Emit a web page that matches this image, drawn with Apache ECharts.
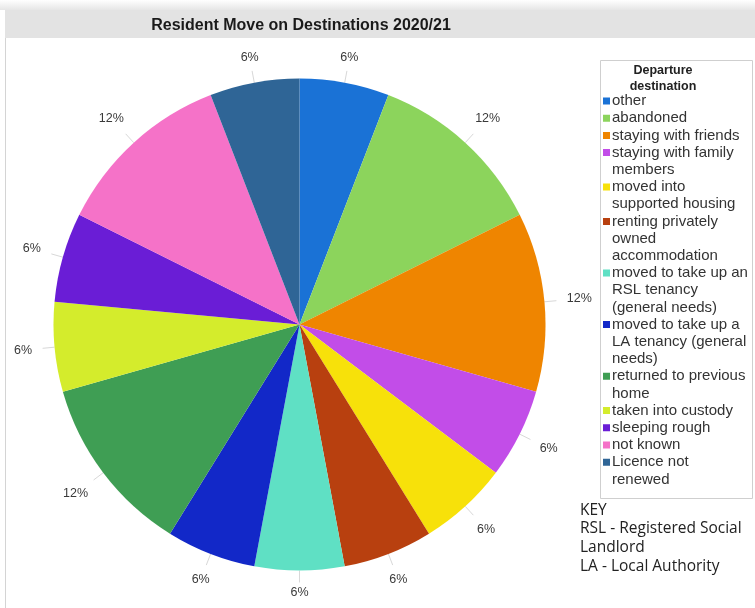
<!DOCTYPE html>
<html>
<head>
<meta charset="utf-8">
<script src="https://cdn.jsdelivr.net/npm/echarts@6/dist/echarts.min.js"></script>
<style>
html,body{margin:0;padding:0;background:#fff;}
#chart{width:755px;height:608px;}
</style>
</head>
<body>
<div id="chart"></div>
<script>
// ---- data ----
const chartTitle = 'Resident Move on Destinations 2020/21';
const legendTitle = 'Departure\ndestination';
const categories = [
  'other',
  'abandoned',
  'staying with friends',
  'staying with family members',
  'moved into supported housing',
  'renting privately owned accommodation',
  'moved to take up an RSL tenancy (general needs)',
  'moved to take up a LA tenancy (general needs)',
  'returned to previous home',
  'taken into custody',
  'sleeping rough',
  'not known',
  'Licence not renewed'
];
const legendLabels = [
  'other',
  'abandoned',
  'staying with friends',
  'staying with family\nmembers',
  'moved into\nsupported housing',
  'renting privately\nowned\naccommodation',
  'moved to take up an\nRSL tenancy\n(general needs)',
  'moved to take up a\nLA tenancy (general\nneeds)',
  'returned to previous\nhome',
  'taken into custody',
  'sleeping rough',
  'not known',
  'Licence not\nrenewed'
];
const counts = [1, 2, 2, 1, 1, 1, 1, 1, 2, 1, 1, 2, 1];
const colors = [
  '#1a72d6', '#8cd45c', '#ef8500', '#c24de8', '#f7e10a', '#b8400f',
  '#5fe0c4', '#1228c8', '#3f9e54', '#d4ec2c', '#6a1dd6', '#f572c8', '#2f6596'
];
const keyText = 'KEY\nRSL - Registered Social\nLandlord\nLA - Local Authority';

// ---- chart ----
const chart = echarts.init(document.getElementById('chart'), null, {renderer: 'canvas'});

const LH = 17.2;          // legend line height
const firstTop = 92.4;    // top of first legend line
const legends = [];
let cum = 0;
categories.forEach((name, i) => {
  const n = legendLabels[i].split('\n').length;
  const H = n * LH;
  const a = (LH - 7) / 2, b = a + 7;
  legends.push({
    show: true,
    orient: 'vertical',
    left: 603,
    top: firstTop + cum * LH,
    padding: 0,
    itemGap: 0,
    itemWidth: 7,
    itemHeight: H,
    selectedMode: false,
    icon: `path://M0,${a}L7,${a}L7,${b}L0,${b}Z M0,0L0,${H}`,
    itemStyle: {borderWidth: 0},
    data: [name],
    formatter: () => legendLabels[i],
    textStyle: {
      fontFamily: 'Liberation Sans, Arial, sans-serif',
      fontSize: 15,
      lineHeight: LH,
      color: '#333',
      padding: [0, 0, 0, -3]
    }
  });
  cum += n;
});

const option = {
  backgroundColor: '#fff',
  animation: false,
  color: colors,
  title: {
    text: chartTitle,
    left: 296,
    top: 13,
    textAlign: 'center',
    textStyle: {
      fontFamily: '"Liberation Sans", Arial, sans-serif',
      fontWeight: 'bold',
      fontSize: 16,
      color: '#1a1a1a'
    }
  },
  graphic: [
    {type: 'rect', z: -10, shape: {x: 0, y: 0, width: 755, height: 10},
     style: {fill: new echarts.graphic.LinearGradient(0, 0, 0, 1, [{offset: 0, color: '#ffffff'}, {offset: 1, color: '#e6e6e6'}])}},
    {type: 'rect', z: -10, shape: {x: 5, y: 10, width: 750, height: 28}, style: {fill: '#e3e3e3'}},
    {type: 'line', z: -10, shape: {x1: 5.5, y1: 38, x2: 5.5, y2: 608}, style: {stroke: '#d4d4d4', lineWidth: 1}},
    {type: 'rect', z: -5, shape: {x: 600.5, y: 60.5, width: 152, height: 438},
     style: {fill: '#fff', stroke: '#cfcfcf', lineWidth: 1}},
    {type: 'text', z: 5, x: 663, y: 62,
     style: {text: legendTitle, fill: '#222', align: 'center',
             font: 'bold 12.5px "Liberation Sans", Arial, sans-serif', lineHeight: 16.5}},
    {type: 'text', z: 5, x: 580, y: 501,
     style: {text: keyText, fill: '#222', font: '15.5px "Open Sans", Lato, sans-serif', lineHeight: 18.6}}
  ],
  legend: legends,
  series: [{
    type: 'pie',
    center: [299.5, 324.5],
    radius: 246,
    startAngle: 90,
    clockwise: true,
    avoidLabelOverlap: false,
    data: categories.map((name, i) => ({name: name, value: counts[i]})),
    itemStyle: {borderWidth: 0},
    label: {
      show: true,
      position: 'outside',
      formatter: p => Math.round(p.percent) + '%',
      fontFamily: 'Liberation Sans, Arial, sans-serif',
      fontSize: 12.5,
      color: '#3a3a3a'
    },
    labelLine: {
      show: true,
      length: 12,
      length2: 0,
      lineStyle: {color: '#d8d8d8', width: 1}
    },
    labelLayout: function (p) {
      const pts = p.labelLinePoints;
      if (!pts || pts.length < 2) return {};
      const x0 = pts[0][0], y0 = pts[0][1];
      let dx = pts[1][0] - x0, dy = pts[1][1] - y0;
      const len = Math.hypot(dx, dy) || 1;
      dx /= len; dy /= len;
      const w = p.labelRect.width, h = p.labelRect.height;
      const d = 16 + Math.abs(dx) * (w / 2 + 6) + Math.abs(dy) * h / 2;
      return {
        x: x0 + dx * d,
        y: y0 + dy * d,
        align: 'center',
        verticalAlign: 'middle',
        labelLinePoints: [[x0, y0], [x0 + dx * 12, y0 + dy * 12]]
      };
    }
  }]
};
chart.setOption(option);
</script>
</body>
</html>
